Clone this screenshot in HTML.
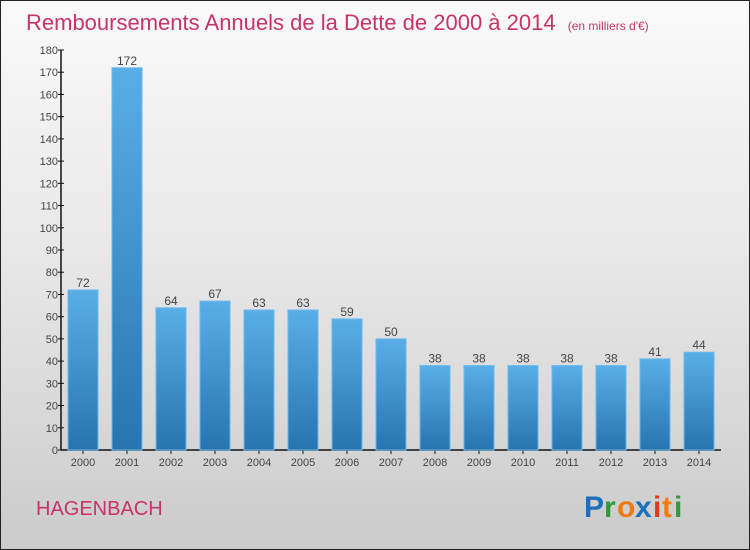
<!DOCTYPE html>
<html><head><meta charset="utf-8"><style>
html,body{margin:0;padding:0}
body{width:750px;height:550px;overflow:hidden;font-family:"Liberation Sans",sans-serif}
#wrap{position:relative;width:748px;height:548px;border:1px solid #222;background:linear-gradient(#fafafa,#e6e6e6 50%,#cbcbcb)}
</style></head><body>
<div id="wrap">
<svg id="chart" width="748" height="548" style="position:absolute;left:0;top:0">
<defs><linearGradient id="bg" x1="0" y1="0" x2="0" y2="1"><stop offset="0" stop-color="#5aaee8"/><stop offset="1" stop-color="#2774b0"/></linearGradient></defs>
<text x="25" y="29" font-size="22" fill="#c8336a">Remboursements Annuels de la Dette de 2000 à 2014 <tspan font-size="12" dx="6">(en milliers d'€)</tspan></text>
<g id="axes"></g><g id="bars"></g>
<text x="35" y="514" font-size="20" fill="#c8336a">HAGENBACH</text>
<g font-size="30" font-weight="bold" font-family="'Liberation Sans',sans-serif">
<text x="583" y="516" fill="#1a6fc0">P</text><text x="603" y="516" fill="#2e9a3a">r</text><text x="616" y="516" fill="#f07a10">o</text><text x="634" y="516" fill="#1a6fc0">x</text><text x="652" y="516" fill="#e03a1a">i</text><text x="661" y="516" fill="#f07a10">t</text><text x="673" y="516" fill="#2e9a3a">i</text>
</g>
</svg>
</div>
<script>
const categories=["2000","2001","2002","2003","2004","2005","2006","2007","2008","2009","2010","2011","2012","2013","2014"];
const values=[72,172,64,67,63,63,59,50,38,38,38,38,38,41,44];
const yTicks=[0,10,20,30,40,50,60,70,80,90,100,110,120,130,140,150,160,170,180];
const NS="http://www.w3.org/2000/svg";
const x0=60,x1=720,y0=449,y1=49,yMax=180;
const band=(x1-x0)/categories.length;
const y=v=>y0-(v/yMax)*(y0-y1);
const xc=i=>x0+band*(i+0.5);
function mk(t,a,p){const e=document.createElementNS(NS,t);for(const k in a)e.setAttribute(k,a[k]);p.appendChild(e);return e;}
const ax=document.getElementById('axes'),bs=document.getElementById('bars');
const ya=mk('line',{x1:x0,y1:y1,x2:x0,y2:y0,stroke:'#111','stroke-width':1.5},ax);


const xa=mk('line',{x1:x0,y1:y0,x2:x1,y2:y0,stroke:'#111','stroke-width':1.5},ax);


yTicks.forEach(v=>{
  mk('line',{x1:x0-3,x2:x0+3,y1:y(v),y2:y(v),stroke:'#111'},ax);
  const t=mk('text',{x:x0-3,y:y(v)+4,'text-anchor':'end','font-size':11,fill:'#444'},ax);
  t.textContent=v;
  
  
});
categories.forEach((c,i)=>{
  mk('line',{x1:xc(i),x2:xc(i),y1:y0,y2:y0+4,stroke:'#111'},ax);
  const t=mk('text',{x:xc(i),y:y0+16,'text-anchor':'middle','font-size':11,fill:'#444'},ax);
  t.textContent=c;
  
  
  const r=mk('rect',{x:xc(i)-15,y:y(values[i]),width:30,height:y0-y(values[i]),fill:'url(#bg)',stroke:'#6bb8ee','stroke-width':1},bs);
  
  
  const l=mk('text',{x:xc(i),y:y(values[i])-3,'text-anchor':'middle','font-size':12,fill:'#444'},bs);
  l.textContent=values[i];
  
  
});
</script>
</body></html>
